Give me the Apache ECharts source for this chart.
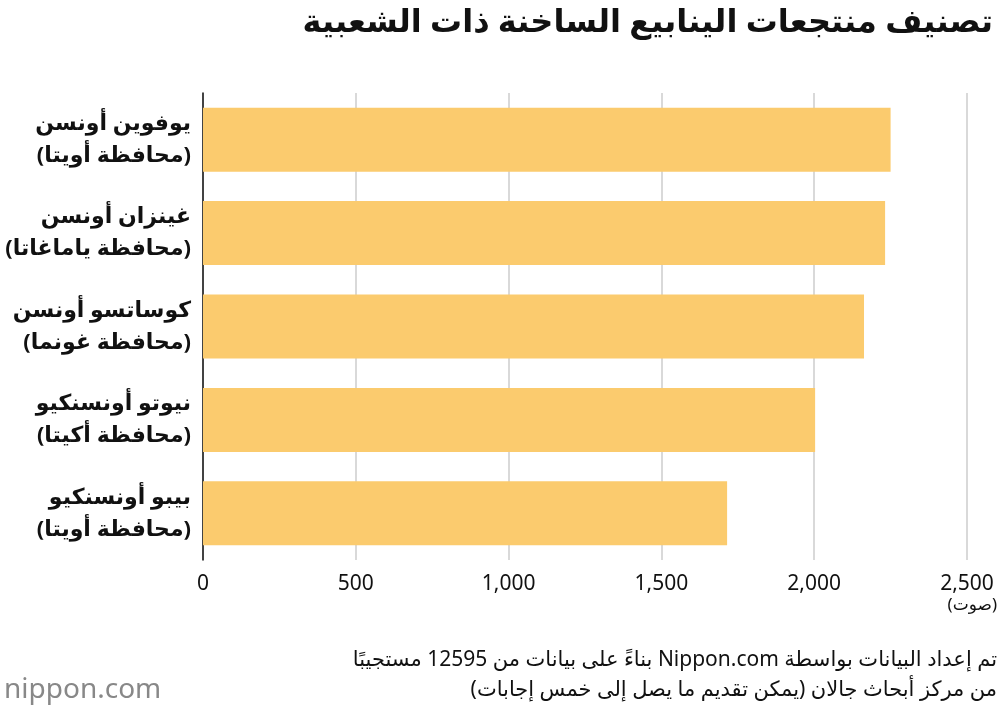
<!DOCTYPE html>
<html><head><meta charset="utf-8">
<script src="https://cdn.jsdelivr.net/npm/echarts@6/dist/echarts.min.js"></script>
<style>body{margin:0}#c{width:1000px;height:718px}</style></head>
<body><div id="c"></div>
<script>
const categories = ["يوفوين أونسن\n(محافظة أويتا)","غينزان أونسن\n(محافظة ياماغاتا)","كوساتسو أونسن\n(محافظة غونما)","نيوتو أونسنكيو\n(محافظة أكيتا)","بيبو أونسنكيو\n(محافظة أويتا)"];
const votes = [2250, 2232, 2163, 2003, 1715];
const tickLabels = ["0","500","1,000","1,500","2,000","2,500"];
const chart = echarts.init(document.getElementById('c'));
const F = "'Noto Sans', 'DejaVu Sans', sans-serif";
const rtl = s => '\u202B' + s + '\u202C';
chart.setOption({
  animation:false,
  backgroundColor:'#fff',
  title:{text:'تصنيف منتجعات الينابيع الساخنة ذات الشعبية', right:2, top:2,
    textStyle:{fontFamily:F,fontSize:32,fontWeight:'bold',color:'#111'}},
  graphic:[
    {type:'text',right:3,top:650,style:{text:rtl('تم إعداد البيانات بواسطة Nippon.com بناءً على بيانات من 12595 مستجيبًا'),font:'21px '+F,fill:'#111',align:'right'}},
    {type:'text',right:3,top:680,style:{text:rtl('من مركز أبحاث جالان (يمكن تقديم ما يصل إلى خمس إجابات)'),font:'21px '+F,fill:'#111',align:'right'}},
    {type:'text',left:4,top:676,style:{text:'nippon.com',font:'28px '+F,fill:'#888'}},
    {type:'text',right:3,top:597,style:{text:'(صوت)',font:'17px '+F,fill:'#111',align:'right'}}
  ],
  grid:{left:203,right:33,top:93,bottom:158},
  xAxis:{type:'value',min:0,max:2500,interval:500,
    axisLabel:{fontFamily:F,fontSize:21,color:'#111',margin:14,formatter:v=>tickLabels[v/500]},
    splitLine:{lineStyle:{color:'#ccc',width:1.5}},axisLine:{show:false},axisTick:{show:false}},
  yAxis:{type:'category',data:categories,inverse:true,
    axisLine:{lineStyle:{color:'#111',width:1.5}},axisTick:{show:false},
    axisLabel:{fontFamily:F,fontSize:22,fontWeight:'bold',color:'#111',lineHeight:32,margin:12}},
  series:[{type:'bar',data:votes,barWidth:64,itemStyle:{color:'#FBCB6E'}}]
});
</script></body></html>
